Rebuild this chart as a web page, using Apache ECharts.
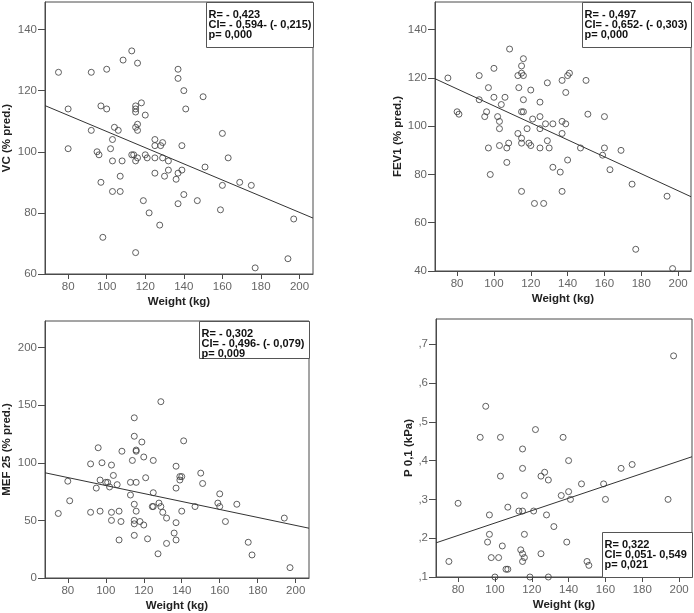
<!DOCTYPE html>
<html>
<head>
<meta charset="utf-8">
<script src="https://cdn.jsdelivr.net/npm/echarts@6/dist/echarts.min.js"></script>
<style>
html,body{margin:0;padding:0;background:#fff;}
#chart{width:694px;height:613px;}
</style>
</head>
<body>
<div id="chart"></div>
<script>
// ---- Data ----
var xTicks = [80, 100, 120, 140, 160, 180, 200];

var vcWeight = [75,80,80,92,92,100,100,97,95,96,97,98,102,103,103,103,104,106,108,107,107,108.5,113,116,115,115,115,118,116,115,116,120,113,114,115,116,119,115,120,121,122,125,125,125,125,128,129,129,130,132,132,127.5,137,137,140,141,139,139,137,136,140,137,147,150,151,160,163,160,159,169,175,177,197,194];
var vcValue  = [126,114,101,126,107,127,114,115,100,99,90,72,101,104,97,87,108,107,97,92,87,130,133,129,115,114,113,116,109,108,107,112,99,99,97,98,84,67,99,98,80,104,102,98,93,102,103,98,92,97,94,76,127,124,120,114,102,94,93,91,86,83,84,118,95,106,98,89,81,90,89,62,78,65];
var vcFitX = [68, 207];
var vcFitY = [115.1, 78.3];
var vcTicks = [60, 80, 100, 120, 140];

var fevWeight = [75,80,81,92,92,96,95,97,97,98,100,100,102,103,103,103,104,106,107,107,108,108.5,113,113.5,113,115,115,116,116,116,115,116,115,115,115,118,119,120,120,121,122,125,125,125,125,127,128,129,129,130,132,132,136,137,137,137,137,139,139,140,141,140,147,150,151,159,160,160,163,169,175,177,194,197];
var fevValue  = [120,106,105,121,111,106,104,116,91,80,124,112,104,102,99,92,109,112,91,85,93,132,121,116,97,125,122,128,121,111,106,106,95,93,73,99,93,115,92,103,68,110,104,99,91,68,101,94,118,91,101,83,81,119,102,97,73,101,114,121,122,86,91,119,105,88,104,91,82,90,76,49,71,41];
var fevFitX = [68, 207];
var fevFitY = [119.7, 70.8];
var fevTicks = [40, 60, 80, 100, 120, 140];

var mefWeight = [75,80,81,92,92,95,96,97,97,98,100,101,102,103,103,103,104,106,107,107,108,108.5,113,113,114,115,115,115,115,115,115,116,116,116,116,118,119,120,120,121,122,125,125,125,124.5,127.5,128,129,129,130,132,132,137,137,137,136,137,139,140,139,141,140,147,150,151,159,160,160,163,169,175,177,194,197];
var mefValue  = [56,84,67,99,57,78,113,85,58,100,83,83,79,98,57,50,89,81,58,33,49,110,83,72,102,139,123,64,50,47,37,111,110,83,58,49,118,105,46,87,34,102,74,62,62,21,65,153,62,57,52,30,97,78,48,39,33,88,88,85,119,58,62,91,82,65,73,62,49,64,31,20,52,9];
var mefFitX = [68, 207];
var mefFitY = [91.3, 43.2];
var mefTicks = [0, 50, 100, 150, 200];

var p01Weight = [75,80,92,95,96,97,97,98,100,102,103,103,104,106,107,107,113,114,115,115,115,115,115,116,116,116,119,121,122,125,125,127,128,129,129,132,136,137,139,140,140,141,147,150,151,159,160,168.5,174.5,194,197];
var p01Value  = [0.14,0.29,0.46,0.54,0.19,0.26,0.21,0.15,0.10,0.15,0.46,0.36,0.18,0.12,0.12,0.28,0.27,0.17,0.27,0.43,0.38,0.16,0.14,0.15,0.31,0.21,0.10,0.27,0.48,0.36,0.16,0.37,0.26,0.35,0.10,0.23,0.31,0.46,0.19,0.32,0.40,0.30,0.34,0.14,0.13,0.34,0.30,0.38,0.39,0.30,0.67];
var p01FitX = [68, 207];
var p01FitY = [0.188, 0.410];
var p01Ticks = [0.1, 0.2, 0.3, 0.4, 0.5, 0.6, 0.7];

var stats1 = ['R= - 0,423', 'CI= - 0,594- (- 0,215)', 'p= 0,000'];
var stats2 = ['R= - 0,497', 'CI= - 0,652- (- 0,303)', 'p= 0,000'];
var stats3 = ['R= - 0,302', 'CI= - 0,496- (- 0,079)', 'p= 0,009'];
var stats4 = ['R= 0,322', 'CI= 0,051- 0,549', 'p= 0,021'];

// ---- Helpers ----
function zip(a, b) { return a.map(function (v, i) { return [v, b[i]]; }); }
var FONT = '"Liberation Sans", Arial, sans-serif';
var AX = '#4a4a4a';

var grids = [
  {left: 45, top: 2, width: 268, height: 272},
  {left: 435, top: 2, width: 256, height: 269},
  {left: 45, top: 321, width: 264, height: 257},
  {left: 436, top: 319, width: 256, height: 258}
];

function xAxis(idx) {
  return {
    gridIndex: idx, type: 'value', min: 68, max: 207,
    name: 'Weight (kg)', nameLocation: 'middle', nameGap: 22,
    nameTextStyle: {fontFamily: FONT, fontSize: 11.5, fontWeight: 'bold', color: '#222'},
    axisLine: {show: true, lineStyle: {color: AX, width: 1}},
    axisTick: {show: true, length: 5, lineStyle: {color: AX}, customValues: xTicks},
    axisLabel: {fontFamily: FONT, fontSize: 11.5, color: '#666', margin: 7, customValues: xTicks},
    splitLine: {show: false}
  };
}
function yAxis(idx, min, max, ticks, name, gap, fmt) {
  return {
    gridIndex: idx, type: 'value', min: min, max: max,
    name: name, nameLocation: 'middle', nameGap: gap,
    nameTextStyle: {fontFamily: FONT, fontSize: 11.5, fontWeight: 'bold', color: '#222'},
    axisLine: {show: true, lineStyle: {color: AX, width: 1}},
    axisTick: {show: true, length: 7, lineStyle: {color: AX}, customValues: ticks},
    axisLabel: {fontFamily: FONT, fontSize: 11.5, color: '#666', margin: 8, customValues: ticks, formatter: fmt},
    splitLine: {show: false}
  };
}
function scatter(idx, w, v) {
  return {
    type: 'scatter', xAxisIndex: idx, yAxisIndex: idx, data: zip(w, v),
    symbol: 'circle', symbolSize: 6, clip: false,
    itemStyle: {color: 'rgba(255,255,255,0)', borderColor: '#3a3a3a', borderWidth: 1},
    emphasis: {disabled: true}, z: 3
  };
}
function fit(idx, fx, fy) {
  return {
    type: 'line', xAxisIndex: idx, yAxisIndex: idx, data: zip(fx, fy),
    symbol: 'none', lineStyle: {color: '#333', width: 1}, z: 2, silent: true
  };
}
function statBox(x, y, w, h, lines) {
  return {
    type: 'group', left: x, top: y,
    children: [
      {type: 'rect', shape: {x: 0, y: 0, width: w, height: h},
       style: {fill: '#fff', stroke: '#555', lineWidth: 1}, z: 10},
      {type: 'text', x: 2, y: 8, z: 11,
       style: {text: lines.join('\n'), font: 'bold 11px ' + FONT, fill: '#111', lineHeight: 9.8}}
    ]
  };
}

var chart = echarts.init(document.getElementById('chart'), null, {renderer: 'canvas'});
chart.setOption({
  backgroundColor: '#fff',
  animation: false,
  grid: grids.map(function (g) {
    return Object.assign({show: true, borderColor: AX, borderWidth: 1, backgroundColor: 'transparent'}, g);
  }),
  xAxis: [xAxis(0), xAxis(1), xAxis(2), xAxis(3)],
  yAxis: [
    yAxis(0, 60, 149, vcTicks, 'VC (% pred.)', 32),
    yAxis(1, 40, 151.5, fevTicks, 'FEV1 (% pred.)', 31),
    yAxis(2, 0, 223, mefTicks, 'MEF 25 (% pred.)', 32),
    yAxis(3, 0.1, 0.765, p01Ticks, 'P 0,1 (kPa)', 20, function (v) { return ',' + Math.round(v * 10); })
  ],
  series: [
    fit(0, vcFitX, vcFitY), scatter(0, vcWeight, vcValue),
    fit(1, fevFitX, fevFitY), scatter(1, fevWeight, fevValue),
    fit(2, mefFitX, mefFitY), scatter(2, mefWeight, mefValue),
    fit(3, p01FitX, p01FitY), scatter(3, p01Weight, p01Value)
  ],
  graphic: [
    statBox(206, 2, 107, 45, stats1),
    statBox(582, 2, 109, 45, stats2),
    statBox(199, 321, 110, 37, stats3),
    statBox(602, 532, 90, 45, stats4)
  ]
});
</script>
</body>
</html>
